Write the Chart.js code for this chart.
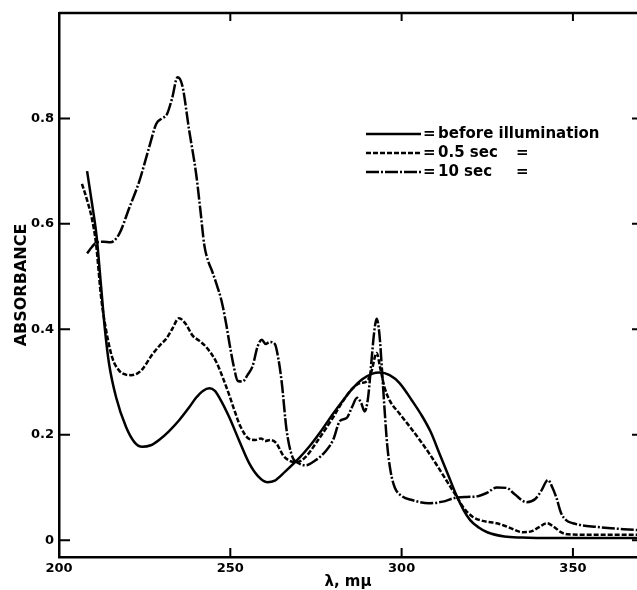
<!DOCTYPE html>
<html>
<head>
<meta charset="utf-8">
<script src="https://cdn.jsdelivr.net/npm/chart.js@4.4.1/dist/chart.umd.min.js"></script>
<style>
  html, body { margin: 0; padding: 0; background: #fff; }
  #wrap { width: 637px; height: 590px; }
</style>
</head>
<body>
<div id="wrap"><canvas id="spectrum" width="637" height="590"></canvas></div>
<script>
// values: wavelength (mμ) and absorbance
const beforeNm  = [208.2, 209.6, 211.0, 212.3, 213.4, 214.6, 216.7, 219.6, 222.0, 224.3, 226.8, 229.2, 232.0, 235.0, 238.0, 240.0, 242.0, 243.9, 245.5, 247.0, 249.7, 252.5, 255.5, 258.0, 260.8, 263.0, 266.0, 270.0, 273.0, 276.5, 280.0, 283.0, 285.7, 288.5, 291.5, 293.6, 296.5, 299.4, 303.0, 306.0, 308.5, 311.0, 313.5, 316.0, 318.0, 320.0, 322.5, 325.0, 330.0, 335.0, 345.0, 368.7]
const beforeAbs = [0.70, 0.64, 0.575, 0.48, 0.40, 0.335, 0.27, 0.214, 0.186, 0.177, 0.18, 0.19, 0.206, 0.227, 0.252, 0.27, 0.283, 0.288, 0.283, 0.268, 0.233, 0.19, 0.146, 0.122, 0.11, 0.113, 0.13, 0.155, 0.177, 0.207, 0.24, 0.266, 0.288, 0.305, 0.316, 0.318, 0.313, 0.298, 0.265, 0.235, 0.205, 0.165, 0.125, 0.085, 0.058, 0.038, 0.024, 0.015, 0.007, 0.005, 0.004, 0.004]

const halfSecNm  = [206.7, 208.2, 209.6, 210.8, 212.3, 213.7, 215.5, 217.5, 219.5, 221.0, 222.8, 224.3, 227.2, 229.5, 231.3, 233.0, 235.0, 237.0, 239.0, 241.0, 243.0, 245.9, 248.0, 249.7, 251.0, 253.0, 255.5, 257.3, 259.0, 260.2, 261.6, 263.4, 265.5, 267.5, 269.5, 272.0, 275.0, 280.0, 283.0, 285.7, 288.0, 289.8, 291.2, 292.7, 293.8, 295.0, 296.5, 299.4, 303.0, 308.0, 313.0, 316.0, 318.5, 320.8, 324.0, 327.8, 331.0, 335.4, 338.0, 340.0, 342.4, 344.5, 346.5, 348.5, 355.0, 368.7]
const halfSecAbs = [0.676, 0.645, 0.61, 0.563, 0.46, 0.40, 0.347, 0.322, 0.314, 0.313, 0.316, 0.324, 0.352, 0.37, 0.382, 0.40, 0.421, 0.41, 0.388, 0.378, 0.366, 0.338, 0.305, 0.275, 0.25, 0.215, 0.192, 0.19, 0.193, 0.188, 0.19, 0.184, 0.16, 0.15, 0.148, 0.158, 0.184, 0.233, 0.265, 0.288, 0.298, 0.301, 0.32, 0.355, 0.325, 0.29, 0.265, 0.24, 0.21, 0.165, 0.114, 0.083, 0.058, 0.044, 0.036, 0.032, 0.025, 0.015, 0.017, 0.024, 0.032, 0.025, 0.015, 0.011, 0.01, 0.01]

const tenSecNm  = [208.2, 209.6, 211.0, 213.0, 215.0, 217.5, 220.5, 223.4, 226.3, 228.4, 230.0, 231.5, 233.0, 234.6, 236.0, 238.0, 240.0, 241.2, 242.4, 243.5, 244.7, 246.0, 247.4, 248.8, 249.7, 251.0, 252.2, 253.6, 255.0, 256.5, 258.0, 259.2, 260.3, 261.5, 263.0, 264.0, 265.0, 266.4, 268.0, 270.0, 272.0, 275.0, 278.0, 280.0, 282.0, 284.0, 285.5, 287.0, 288.2, 289.2, 290.2, 291.2, 292.0, 292.7, 293.5, 294.3, 295.0, 295.8, 296.8, 298.0, 300.0, 303.0, 308.0, 312.0, 315.5, 319.0, 322.0, 325.0, 327.8, 330.7, 333.0, 336.5, 339.0, 340.8, 342.7, 344.0, 345.2, 346.5, 348.0, 350.0, 357.0, 368.7]
const tenSecAbs = [0.544, 0.556, 0.565, 0.566, 0.565, 0.58, 0.63, 0.68, 0.745, 0.79, 0.80, 0.808, 0.838, 0.878, 0.862, 0.777, 0.696, 0.63, 0.56, 0.53, 0.51, 0.485, 0.455, 0.41, 0.375, 0.33, 0.302, 0.301, 0.313, 0.33, 0.368, 0.38, 0.372, 0.376, 0.372, 0.345, 0.30, 0.21, 0.16, 0.146, 0.142, 0.152, 0.17, 0.19, 0.226, 0.232, 0.252, 0.27, 0.26, 0.244, 0.27, 0.34, 0.395, 0.42, 0.392, 0.32, 0.25, 0.18, 0.13, 0.10, 0.084, 0.076, 0.07, 0.073, 0.08, 0.082, 0.083, 0.09, 0.10, 0.099, 0.087, 0.072, 0.078, 0.094, 0.114, 0.10, 0.08, 0.052, 0.038, 0.032, 0.025, 0.019]

const xTicks = [200, 250, 300, 350]
const yTicks = [0, 0.2, 0.4, 0.6, 0.8]
const seriesLabels = ['before illumination', '0.5 sec', '10 sec']

const INK = '#000'
const FONT = 'DejaVu Sans'
const DASHES = [[], [5, 2], [13, 2, 2, 2]]

function points (xs, ys) {
  return xs.map((x, i) => ({ x: x, y: ys[i] }))
}

function curve (label, xs, ys, dash) {
  return {
    label: label,
    data: points(xs, ys),
    borderColor: INK,
    borderWidth: 2.5,
    borderDash: dash,
    pointRadius: 0,
    fill: false,
    cubicInterpolationMode: 'monotone'
  }
}

// frame top line, inward tick marks and the in-plot key
const framePlugin = {
  id: 'frame',
  afterDatasetsDraw (chart) {
    const { ctx, chartArea: a, scales: { x, y } } = chart
    ctx.save()
    ctx.strokeStyle = INK
    ctx.lineWidth = 2.5
    ctx.beginPath()
    ctx.moveTo(a.left, a.top)
    ctx.lineTo(a.right, a.top)
    ctx.stroke()

    ctx.lineWidth = 2
    x.ticks.forEach(t => {
      const px = x.getPixelForValue(t.value)
      if (px < a.left + 3) return
      ctx.beginPath()
      ctx.moveTo(px, a.bottom)
      ctx.lineTo(px, a.bottom - 9)
      ctx.moveTo(px, a.top)
      ctx.lineTo(px, a.top + 8)
      ctx.stroke()
    })
    y.ticks.forEach(t => {
      const py = y.getPixelForValue(t.value)
      ctx.beginPath()
      ctx.moveTo(a.left, py)
      ctx.lineTo(a.left + 11, py)
      ctx.moveTo(a.right, py)
      ctx.lineTo(a.right - 5, py)
      ctx.stroke()
    })

    // key
    const rows = [134, 153, 172]
    ctx.font = 'bold 15px ' + FONT
    ctx.fillStyle = INK
    ctx.textBaseline = 'middle'
    seriesLabels.forEach((label, i) => {
      ctx.lineWidth = 2.5
      ctx.setLineDash(DASHES[i])
      ctx.beginPath()
      ctx.moveTo(366, rows[i])
      ctx.lineTo(421, rows[i])
      ctx.stroke()
      ctx.setLineDash([])
      ctx.fillText('=', 423, rows[i])
      ctx.fillText(label, 438, rows[i])
      if (i > 0) ctx.fillText('=', 516, rows[i])
    })
    ctx.restore()
  }
}

const tickFont = { family: FONT, weight: 'bold', size: 13 }

new Chart(document.getElementById('spectrum').getContext('2d'), {
  type: 'line',
  data: {
    datasets: [
      curve(seriesLabels[0], beforeNm, beforeAbs, DASHES[0]),
      curve(seriesLabels[1], halfSecNm, halfSecAbs, DASHES[1]),
      curve(seriesLabels[2], tenSecNm, tenSecAbs, DASHES[2])
    ]
  },
  options: {
    responsive: false,
    devicePixelRatio: 1,
    animation: false,
    layout: { padding: { top: 13, right: 0, left: 0, bottom: 0 } },
    plugins: {
      legend: { display: false },
      tooltip: { enabled: false }
    },
    scales: {
      x: {
        type: 'linear',
        min: 200,
        max: 368.7,
        afterBuildTicks (scale) { scale.ticks = xTicks.map(v => ({ value: v })) },
        afterFit (scale) { scale.height = 33 },
        grid: { display: false, drawTicks: false },
        border: { display: true, color: INK, width: 2.5 },
        ticks: { font: tickFont, color: INK, padding: 4, maxRotation: 0 },
        title: {
          display: true,
          text: 'λ, mμ',
          color: INK,
          font: { family: FONT, weight: 'bold', size: 15, lineHeight: 1 },
          padding: { top: 0, bottom: 0 }
        }
      },
      y: {
        min: -0.032,
        max: 1.0,
        afterBuildTicks (scale) { scale.ticks = yTicks.map(v => ({ value: v })) },
        afterFit (scale) { scale.width = 59 },
        grid: { display: false, drawTicks: false },
        border: { display: true, color: INK, width: 2.5 },
        ticks: { font: tickFont, color: INK, padding: 5 },
        title: {
          display: true,
          text: 'ABSORBANCE',
          color: INK,
          font: { family: FONT, weight: 'bold', size: 16, lineHeight: 1 },
          padding: { top: 14, bottom: 0 }
        }
      }
    }
  },
  plugins: [framePlugin]
})
</script>
</body>
</html>
